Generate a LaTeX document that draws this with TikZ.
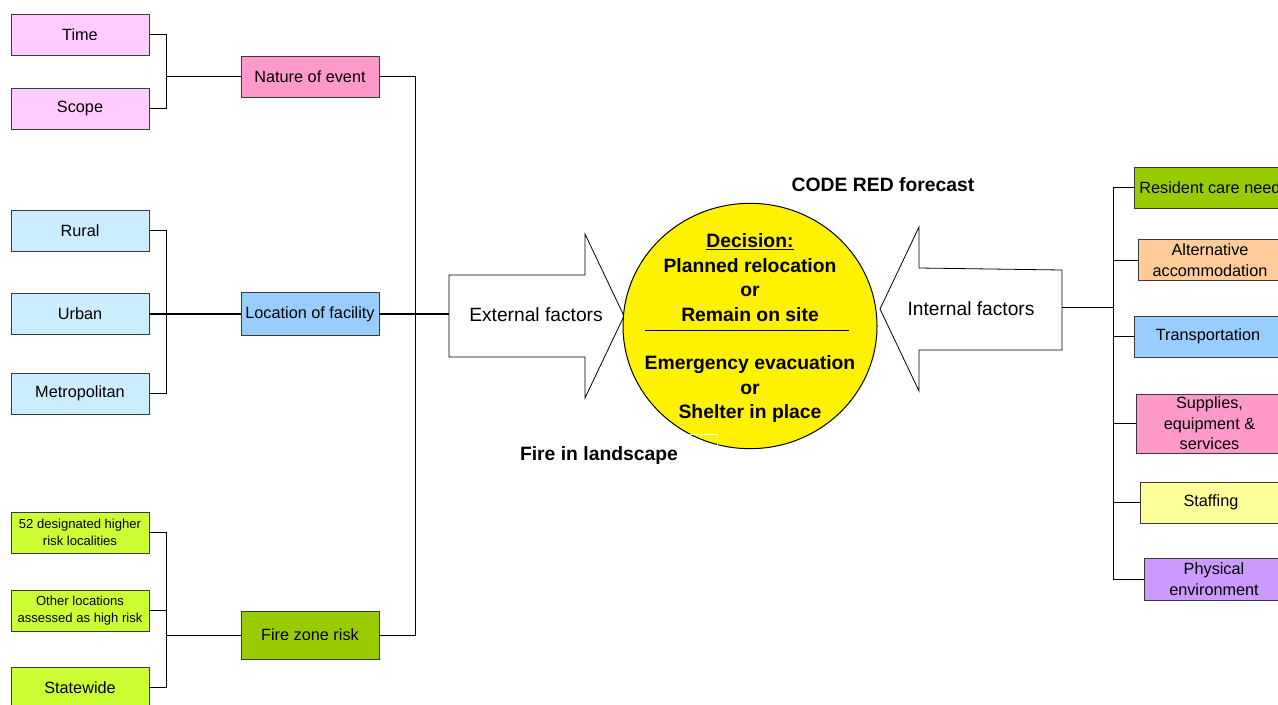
\documentclass[tikz,border=0pt]{standalone}
\usepackage{fontspec}
\setmainfont{Liberation Sans}
\usetikzlibrary{shapes.geometric}
\definecolor{lpink}{HTML}{FFCCFF}
\definecolor{mpink}{HTML}{FF99CC}
\definecolor{lblue}{HTML}{CCECFF}
\definecolor{mblue}{HTML}{99CCFF}
\definecolor{lgreen}{HTML}{CCFF33}
\definecolor{dgreen}{HTML}{99CC00}
\definecolor{lorange}{HTML}{FFCC99}
\definecolor{lyellow}{HTML}{FFFF99}
\definecolor{lviolet}{HTML}{CC99FF}
\definecolor{bord}{HTML}{3A3A3A}
\begin{document}
\begin{tikzpicture}[x=0.75pt,y=-0.75pt,
  fbox/.style={draw=bord,line width=0.7pt,inner sep=0pt,minimum width=103.5pt,minimum height=30.75pt,align=center,font=\fontsize{12.2}{15.5}\selectfont},
  smallt/.style={font=\fontsize{9.8}{12.8}\selectfont},
  conn/.style={draw=black,line width=0.7pt},
  bigt/.style={font=\fontsize{14.5}{18.4}\selectfont\bfseries,align=center,inner sep=0pt},
  arr/.style={draw=black,line width=0.6pt,fill=white}]
\useasboundingbox (0,0) rectangle (1278,704);
\clip (0,0) rectangle (1278,704);
\fill[white] (0,0) rectangle (1278,704);

% left column
\node[fbox,fill=lpink] (time) at (80,34.5) {Time};
\node[fbox,fill=lpink] (scope) at (80,108.5) {Scope};
\node[fbox,fill=lblue] (rural) at (80,230.5) {Rural};
\node[fbox,fill=lblue] (urban) at (80,314) {Urban};
\node[fbox,fill=lblue] (metro) at (80,393.5) {Metropolitan};
\node[fbox,fill=lgreen,smallt] (desig) at (80,532.5) {52 designated higher\\risk localities};
\node[fbox,fill=lgreen,smallt] (other) at (80,610.5) {Other locations\\assessed as high risk};
\node[fbox,fill=lgreen,minimum height=30.75pt] (state) at (80,687.5) {Statewide};

% middle column
\node[fbox,fill=mpink] (nature) at (310,76.5) {Nature of event};
\node[fbox,fill=mblue,minimum height=32.25pt] (location) at (310,314) {Location of facility};
\node[fbox,fill=dgreen,minimum height=36pt] (fire) at (310,635) {Fire zone risk};

% left brackets
\coordinate (jA) at (166,76.5);
\coordinate (jB) at (166,314);
\coordinate (jC) at (166,635);
\draw[conn] (time.east) -| (jA);
\draw[conn] (scope.east) -| (jA);
\draw[conn] (jA) -- (nature.west);
\draw[conn] (rural.east) -| (jB);
\draw[conn] (metro.east) -| (jB);
\draw[conn,line width=1.1pt] (urban.east) -- (jB);
\draw[conn,line width=1.1pt] (jB) -- (location.west);
\draw[conn] (desig.east) -| (jC);
\draw[conn] (other.east) -| (jC);
\draw[conn] (state.east) -| (jC);
\draw[conn] (jC) -- (fire.west);

% middle bracket
\coordinate (jM) at (415,314);
\coordinate (extTail) at (449,314);
\draw[conn] (nature.east) -| (jM);
\draw[conn] (fire.east) -| (jM);
\draw[conn,line width=1.1pt] (location.east) -- (extTail);

% external arrow
\draw[arr] (449,275) -- (585,275) -- (585,234) -- (624,316) -- (585,398) -- (585,357) -- (449,357) -- cycle;
\node[font=\fontsize{14.4}{17}\selectfont,inner sep=0pt] (ext) at (536,315) {External factors};

% internal arrow
\draw[arr] (1062,270) -- (919,268) -- (919,227) -- (880,309) -- (919,391) -- (919,350) -- (1062,350) -- cycle;
\node[font=\fontsize{14.4}{17}\selectfont,inner sep=0pt] (int) at (971,309) {Internal factors};
\coordinate (intTail) at (1062,307);

% decision circle
\node[draw=black,line width=0.75pt,fill=yellow,ellipse,minimum width=190.5pt,minimum height=184pt,inner sep=0pt] (circ) at (750,326) {};
\node[bigt] (dec1) at (750,277.5) {\underline{Decision:}\\Planned relocation\\or\\Remain on site};
\node[bigt] (dec2) at (750,389) {Emergency evacuation\\or\\Shelter in place};
\coordinate (sepL) at (645,330);
\coordinate (sepR) at (849,330);
\draw[line width=0.75pt] (sepL) -- (sepR);
\draw[white,line width=0.75pt] (690,434) -- (717,434) -- (717,448);

\node[bigt] (codered) at (883,185) {CODE RED forecast};
\node[bigt] (fireland) at (599,455) {Fire in landscape};

% right column
\node[fbox,fill=dgreen,minimum width=120pt] (resident) at (1214,187.5) {Resident care needs};
\node[fbox,fill=lorange,minimum width=108pt] (alt) at (1210,260) {Alternative\\accommodation};
\node[fbox,fill=mblue,minimum width=111pt] (trans) at (1208,336.5) {Transportation};
\node[fbox,fill=mpink,minimum width=109pt,minimum height=44.25pt] (supp) at (1209.5,423.5) {Supplies,\\equipment \&\\services};
\node[fbox,fill=lyellow,minimum width=106.5pt] (staff) at (1211,502.5) {Staffing};
\node[fbox,fill=lviolet,minimum width=105pt,minimum height=31.5pt] (phys) at (1214,579) {Physical\\environment};

\coordinate (jR) at (1113,307);
\draw[conn] (intTail) -- (jR);
\draw[conn] (resident.west) -| (jR);
\draw[conn] (alt.west) -| (jR);
\draw[conn] (trans.west) -| (jR);
\draw[conn] (supp.west) -| (jR);
\draw[conn] (staff.west) -| (jR);
\draw[conn] (phys.west) -| (jR);
\end{tikzpicture}
\end{document}
